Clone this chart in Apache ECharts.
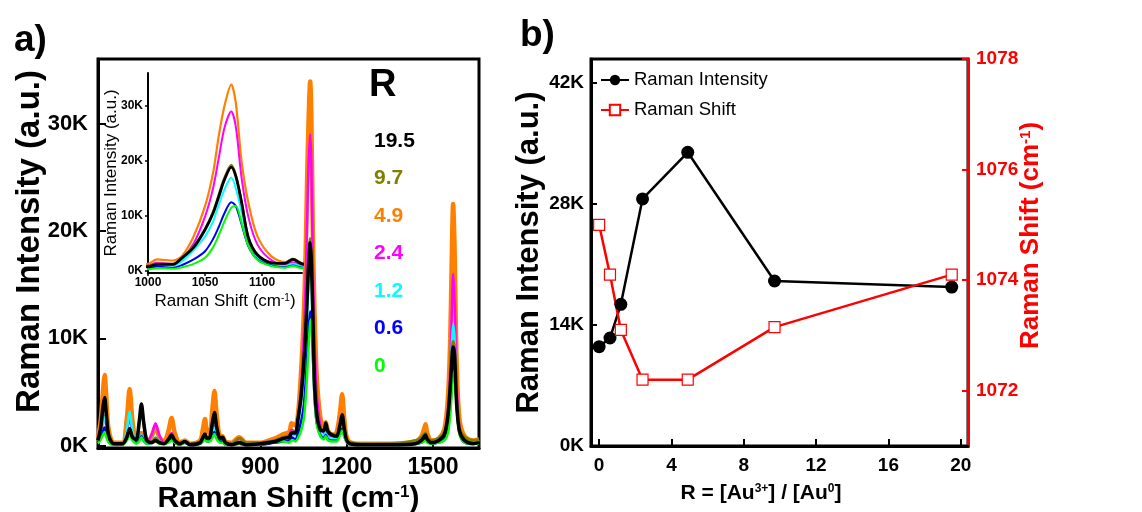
<!DOCTYPE html>
<html><head><meta charset="utf-8">
<script src="https://cdn.jsdelivr.net/npm/echarts@6.0.0/dist/echarts.min.js"></script>
<style>html,body{margin:0;padding:0;background:#fff}#c{width:1142px;height:512px}</style>
</head><body><div id="c"></div>
<script>
// ---------- DATA ----------
const ramanShift = [335,345,352,358,364,372,390,420,435,445,455,468,478,486,494,505,522,535,548,565,580,591,602,620,637,655,690,700,707,714,724,733,740,748,760,768,778,800,826,850,900,950,980,1000,1008,1015,1022,1030,1040,1050,1057,1062,1067,1073,1077,1082,1088,1096,1108,1120,1127,1135,1150,1165,1176,1184,1192,1205,1250,1350,1440,1460,1468,1474,1480,1495,1520,1540,1552,1560,1565,1570,1575,1582,1592,1610,1640,1660];
// intensities in thousands of counts (K)
const spectrumR4_9 = [0.8,2.5,5.0,6.6,4.5,1.5,0.3,0.3,2.5,5.3, 2.3,0.5,0.7,1.2,0.7,0.3,0.9,1.8,0.8,0.4, 1.4,2.6,1.2,0.3,0.5,0.2,0.5,1.6,2.5,1.4, 1.2,3.5,5.1,2.8,0.9,0.9,0.4,0.3,0.8,0.3, 0.3,0.7,1.1,1.3,2.1,2.0,1.9,2.8,6.3,11.8, 17.8,24.5,30.0,33.9,30.5,20.0,12.4,6.3,2.7,1.6, 2.2,1.4,1.0,1.3,3.0,4.8,2.4,0.5,0.2,0.2, 0.4,0.9,1.5,2.0,1.2,0.5,0.7,1.6,4.5,10.0, 17.0,22.5,18.5,8.0,2.5,0.9,0.5,0.6];
const spectrumR19_5 = [0.5,1.8,3.6,4.5,3.0,1.0,0.2,0.2,0.8,1.6, 0.8,0.6,2.2,3.9,2.2,0.5,0.3,0.5,0.3,0.2, 0.6,1.0,0.5,0.2,0.4,0.1,0.3,0.8,1.1,0.7, 0.8,2.2,3.1,1.7,0.7,0.8,0.3,0.1,0.3,0.1, 0.2,0.4,0.7,0.8,1.2,1.2,1.2,2.4,4.3,7.5, 10.5,13.5,16.6,18.9,17.2,12.5,6.0,2.9,1.5,1.4, 2.1,1.3,1.0,0.9,1.9,2.9,1.5,0.3,0.1,0.1, 0.2,0.5,0.8,1.0,0.6,0.3,0.5,1.1,2.8,5.5, 7.8,9.2,8.5,4.0,1.4,0.5,0.2,0.3];
const spectrumR9_7 = [0.5,1.6,3.2,4.0,2.7,0.9,0.2,0.2,0.8,1.6, 0.8,0.6,2.0,3.6,2.0,0.5,0.4,0.7,0.4,0.3, 0.6,1.0,0.5,0.2,0.4,0.2,0.3,0.8,1.1,0.7, 0.8,2.1,3.0,1.6,0.7,0.8,0.3,0.2,0.7,0.3, 0.3,0.5,0.8,0.9,1.3,1.3,1.3,2.5,4.5,7.7, 10.8,13.9,17.0,19.3,17.5,12.8,6.2,3.0,1.6,1.5, 2.2,1.4,1.1,1.0,1.9,2.8,1.5,0.4,0.2,0.2, 0.5,0.8,1.0,1.2,0.8,0.5,0.7,1.3,3.0,5.8, 8.2,9.7,9.0,4.4,1.6,0.8,0.5,0.6];
const spectrumR2_4 = [0.4,1.2,2.2,2.8,1.8,0.6,0.2,0.2,1.3,2.6, 1.2,0.3,0.6,1.0,0.6,0.4,1.1,2.1,1.0,0.3, 0.7,1.2,0.6,0.2,0.4,0.2,0.2,0.7,1.0,0.6, 0.6,1.5,2.0,1.2,0.5,0.5,0.2,0.2,0.4,0.2, 0.2,0.5,0.8,1.0,1.5,1.4,1.3,2.3,5.0,9.9, 15.0,20.5,26.0,29.0,26.2,17.0,9.8,4.8,2.0,1.2, 1.6,1.0,0.8,0.8,1.5,2.2,1.2,0.3,0.1,0.2, 0.3,0.5,0.8,1.0,0.6,0.3,0.5,1.1,3.4,7.2, 12.0,16.0,13.5,6.0,1.8,0.6,0.3,0.3];
const spectrumR1_2 = [0.4,1.2,2.2,2.7,1.8,0.6,0.2,0.2,1.5,3.2, 1.4,0.3,0.6,1.0,0.6,0.3,0.4,0.8,0.4,0.2, 0.5,0.8,0.4,0.1,0.5,0.1,0.2,0.6,0.8,0.5, 0.6,1.3,1.7,1.0,0.5,0.5,0.2,0.1,0.3,0.1, 0.2,0.5,0.7,0.7,1.0,1.0,1.0,1.8,3.8,6.3, 9.0,12.0,14.8,17.0,15.0,10.8,5.5,2.6,1.2,0.9, 1.3,0.8,0.7,0.7,1.3,1.9,1.0,0.3,0.1,0.1, 0.2,0.4,0.6,0.8,0.5,0.3,0.4,0.9,2.6,5.8, 9.0,11.3,10.0,4.5,1.4,0.4,0.2,0.2];
const spectrumR0_6 = [0.3,0.8,1.4,1.7,1.1,0.4,0.1,0.1,0.6,1.2, 0.6,0.3,0.5,0.9,0.5,0.2,0.3,0.5,0.3,0.2, 0.4,0.6,0.3,0.1,0.3,0.1,0.2,0.5,0.7,0.4, 0.5,1.0,1.3,0.8,0.4,0.4,0.1,0.1,0.2,0.1, 0.1,0.3,0.4,0.5,0.8,0.7,0.6,1.1,2.1,3.6, 5.8,8.0,10.5,12.5,11.8,8.5,4.5,2.1,1.0,0.7, 1.0,0.6,0.5,0.5,1.1,1.6,0.9,0.2,0.1,0.1, 0.2,0.3,0.5,0.6,0.4,0.2,0.3,0.6,1.5,3.5, 5.5,7.2,7.5,4.0,1.2,0.3,0.2,0.2];
const spectrumR0 = [0.2,0.6,1.0,1.3,0.8,0.3,0.1,0.1,0.5,1.0, 0.5,0.2,0.4,0.8,0.4,0.2,0.3,0.4,0.2,0.2, 0.3,0.5,0.3,0.1,0.3,0.1,0.2,0.4,0.6,0.4, 0.4,0.8,1.1,0.6,0.3,0.3,0.1,0.1,0.2,0.1, 0.1,0.4,0.4,0.3,0.5,0.5,0.4,0.7,1.3,2.4, 4.3,6.5,9.0,11.5,11.8,8.8,4.6,2.0,0.9,0.6, 0.9,0.5,0.4,0.4,1.0,1.4,0.8,0.2,0.1,0.1, 0.2,0.3,0.4,0.5,0.3,0.2,0.3,0.5,1.2,3.0, 4.8,6.6,7.0,3.8,1.1,0.3,0.2,0.2];

const rLabels = ['19.5','9.7','4.9','2.4','1.2','0.6','0'];

const ratioR = [0, 0.6, 1.2, 2.4, 4.9, 9.7, 19.5];
const peakIntensityK = [11.5, 12.5, 16.4, 28.6, 34.0, 19.1, 18.4];
const peakShift = [1075.0, 1074.1, 1073.1, 1072.2, 1072.2, 1073.15, 1074.1];

const mainXTicks = [600, 900, 1200, 1500];
const mainYTicks = [0, 10, 20, 30];
const insetXTicks = [1000, 1050, 1100];
const insetYTicks = [0, 10, 20, 30];
const bXTicks = [0, 4, 8, 12, 16, 20];
const bLeftTicks = [0, 14, 28, 42];
const bRightTicks = [1072, 1074, 1076, 1078];

// ---------- STYLE ----------
const spectraByR = {'19.5':spectrumR19_5,'9.7':spectrumR9_7,'4.9':spectrumR4_9,'2.4':spectrumR2_4,'1.2':spectrumR1_2,'0.6':spectrumR0_6,'0':spectrumR0};
const colorByR = {'19.5':'#000000','9.7':'#808000','4.9':'#FF8000','2.4':'#FF00FF','1.2':'#00FFFF','0.6':'#0000FF','0':'#00FF00'};
const mainWidth = {'19.5':3.5,'9.7':3,'4.9':4.5,'2.4':2.5,'1.2':2.5,'0.6':2.5,'0':2.5};
const insetWidth = {'19.5':2.8,'9.7':2.2,'4.9':2.2,'2.4':2,'1.2':2,'0.6':2,'0':2};
const drawOrder = ['4.9','2.4','1.2','0.6','0','9.7','19.5'];

const SANS = '"Liberation Sans", Arial, sans-serif';
const plain = v => String(v);
const kilo = v => v + 'K';

const series = [];
drawOrder.forEach(r => {
  const pts = ramanShift.map((x, i) => [x, spectraByR[r][i]]);
  series.push({name:r, type:'line', xAxisIndex:0, yAxisIndex:0, data:pts, symbol:'none', smooth:0.3,
    lineStyle:{color:colorByR[r], width:mainWidth[r]}, itemStyle:{color:colorByR[r]}, silent:true});
  series.push({name:r, type:'line', xAxisIndex:1, yAxisIndex:1, data:pts, symbol:'none', smooth:0.3,
    lineStyle:{color:colorByR[r], width:insetWidth[r]}, itemStyle:{color:colorByR[r]}, silent:true});
});
series.push({name:'Raman Intensity', type:'line', xAxisIndex:2, yAxisIndex:2,
  data: ratioR.map((x,i)=>[x, peakIntensityK[i]]), symbol:'circle', symbolSize:13,
  lineStyle:{color:'#000', width:2.5}, itemStyle:{color:'#000'}});
series.push({name:'Raman Shift', type:'line', xAxisIndex:2, yAxisIndex:3,
  data: ratioR.map((x,i)=>[x, peakShift[i]]), symbol:'rect', symbolSize:11,
  lineStyle:{color:'#FF0000', width:2.5}, itemStyle:{color:'#fff', borderColor:'#FF0000', borderWidth:1.2}});

function supRich(size, color, weight){
  return {sup:{fontSize:size, fontWeight:weight, fontFamily:SANS, color:color, verticalAlign:'top'}};
}

const option = {
  animation:false,
  backgroundColor:'#fff',
  grid:[
    {left:98, top:59, width:381, height:389, show:true, borderColor:'#000', borderWidth:3, backgroundColor:'transparent', outerBoundsMode:'none', containLabel:false},
    {left:148, top:73, width:154, height:200, outerBoundsMode:'none', containLabel:false},
    {left:591, top:59, width:377, height:387, show:true, borderColor:'#000', borderWidth:3, backgroundColor:'transparent', outerBoundsMode:'none', containLabel:false}
  ],
  xAxis:[
    {type:'value', gridIndex:0, min:335, max:1660,
     axisLine:{show:true, onZero:false, lineStyle:{color:'#000', width:3}},
     axisTick:{show:true, inside:true, length:6, customValues:mainXTicks, lineStyle:{color:'#000', width:2}},
     axisLabel:{customValues:mainXTicks, formatter:plain, color:'#000', fontFamily:SANS, fontWeight:'bold', fontSize:23, margin:8},
     splitLine:{show:false},
     name:'Raman Shift (cm{sup|-1})', nameLocation:'middle', nameGap:36, nameMoveOverlap:false,
     nameTextStyle:{color:'#000', fontFamily:SANS, fontWeight:'bold', fontSize:30, rich:supRich(17,'#000','bold')}},
    {type:'value', gridIndex:1, min:1000, max:1135,
     axisLine:{show:true, onZero:false, lineStyle:{color:'#000', width:2}},
     axisTick:{show:true, length:3, customValues:insetXTicks, lineStyle:{color:'#000', width:1.5}},
     axisLabel:{customValues:insetXTicks, formatter:plain, color:'#000', fontFamily:SANS, fontWeight:'bold', fontSize:12, margin:4},
     splitLine:{show:false},
     name:'Raman Shift (cm{sup|-1})', nameLocation:'middle', nameGap:20, nameMoveOverlap:false,
     nameTextStyle:{color:'#000', fontFamily:SANS, fontSize:17, rich:supRich(10,'#000','normal')}},
    {type:'value', gridIndex:2, min:-0.45, max:20.4,
     axisLine:{show:true, onZero:false, lineStyle:{color:'#000', width:3}},
     axisTick:{show:true, inside:true, length:7, customValues:bXTicks, lineStyle:{color:'#000', width:2}},
     axisLabel:{customValues:bXTicks, formatter:plain, color:'#000', fontFamily:SANS, fontWeight:'bold', fontSize:19, margin:10},
     splitLine:{show:false},
     name:'R = [Au{sup|3+}] / [Au{sup|0}]', nameLocation:'middle', nameGap:37, nameMoveOverlap:false,
     nameTextStyle:{color:'#000', fontFamily:SANS, fontWeight:'bold', fontSize:21, padding:[0,37,0,0], rich:supRich(12,'#000','bold')}}
  ],
  yAxis:[
    {type:'value', gridIndex:0, min:-0.2, max:36,
     axisLine:{show:true, onZero:false, lineStyle:{color:'#000', width:3}},
     axisTick:{show:true, inside:true, length:8, customValues:mainYTicks, lineStyle:{color:'#000', width:2}},
     axisLabel:{customValues:mainYTicks, formatter:kilo, color:'#000', fontFamily:SANS, fontWeight:'bold', fontSize:22, margin:10},
     splitLine:{show:false},
     name:'Raman Intensity (a.u.)', nameLocation:'middle', nameGap:52, nameRotate:90, nameMoveOverlap:false,
     nameTextStyle:{color:'#000', fontFamily:SANS, fontWeight:'bold', fontSize:33, padding:[0,0,0,24]}},
    {type:'value', gridIndex:1, min:-0.36, max:36,
     axisLine:{show:true, onZero:false, lineStyle:{color:'#000', width:2}},
     axisTick:{show:true, length:3, customValues:insetYTicks, lineStyle:{color:'#000', width:1.5}},
     axisLabel:{customValues:insetYTicks, formatter:kilo, color:'#000', fontFamily:SANS, fontWeight:'bold', fontSize:12, margin:5},
     splitLine:{show:false},
     name:'Raman Intensity (a.u.)', nameLocation:'middle', nameGap:28, nameRotate:90, nameMoveOverlap:false,
     nameTextStyle:{color:'#000', fontFamily:SANS, fontSize:17}},
    {type:'value', gridIndex:2, min:0, max:44.8,
     axisLine:{show:true, onZero:false, lineStyle:{color:'#000', width:3}},
     axisTick:{show:true, inside:true, length:6, customValues:bLeftTicks, lineStyle:{color:'#000', width:2}},
     axisLabel:{customValues:bLeftTicks, formatter:kilo, color:'#000', fontFamily:SANS, fontWeight:'bold', fontSize:19, margin:7},
     splitLine:{show:false},
     name:'Raman Intensity (a.u.)', nameLocation:'middle', nameGap:46, nameRotate:90, nameMoveOverlap:false,
     nameTextStyle:{color:'#000', fontFamily:SANS, fontWeight:'bold', fontSize:31}},
    {type:'value', gridIndex:2, position:'right', min:1071, max:1078,
     axisLine:{show:true, onZero:false, lineStyle:{color:'#FF0000', width:3}},
     axisTick:{show:true, inside:true, length:6, customValues:bRightTicks, lineStyle:{color:'#FF0000', width:2}},
     axisLabel:{customValues:bRightTicks, formatter:plain, color:'#FF0000', fontFamily:SANS, fontWeight:'bold', fontSize:19, margin:8},
     splitLine:{show:false},
     name:'Raman Shift (cm{sup|-1})', nameLocation:'middle', nameGap:50, nameRotate:90, nameMoveOverlap:false,
     nameTextStyle:{color:'#FF0000', fontFamily:SANS, fontWeight:'bold', fontSize:26, padding:[0,0,0,34], rich:supRich(15,'#FF0000','bold')}}
  ],
  legend:[
    {data: rLabels.map(r => ({name:r, textStyle:{color:colorByR[r]}})),
     orient:'vertical', left:364, top:124, icon:'none', itemWidth:0, itemHeight:10, itemGap:13.5,
     selectedMode:false, textStyle:{fontFamily:SANS, fontWeight:'bold', fontSize:21, lineHeight:24}},
    {data:['Raman Intensity','Raman Shift'], orient:'vertical', left:595, top:64,
     itemWidth:28, itemHeight:13, itemGap:8, selectedMode:false,
     textStyle:{fontFamily:SANS, fontSize:18.5, color:'#000', lineHeight:22}}
  ],
  graphic:[
    {type:'text', left:14, top:22, style:{text:'a)', font:'bold 37px "Liberation Sans", Arial', fill:'#000'}},
    {type:'text', left:520, top:17, style:{text:'b)', font:'bold 37px "Liberation Sans", Arial', fill:'#000'}},
    {type:'text', left:369, top:67, style:{text:'R', font:'bold 38px "Liberation Sans", Arial', fill:'#000'}}
  ],
  series: series
};
const chart = echarts.init(document.getElementById('c'), null, {renderer:'canvas'});
chart.setOption(option);
</script></body></html>
